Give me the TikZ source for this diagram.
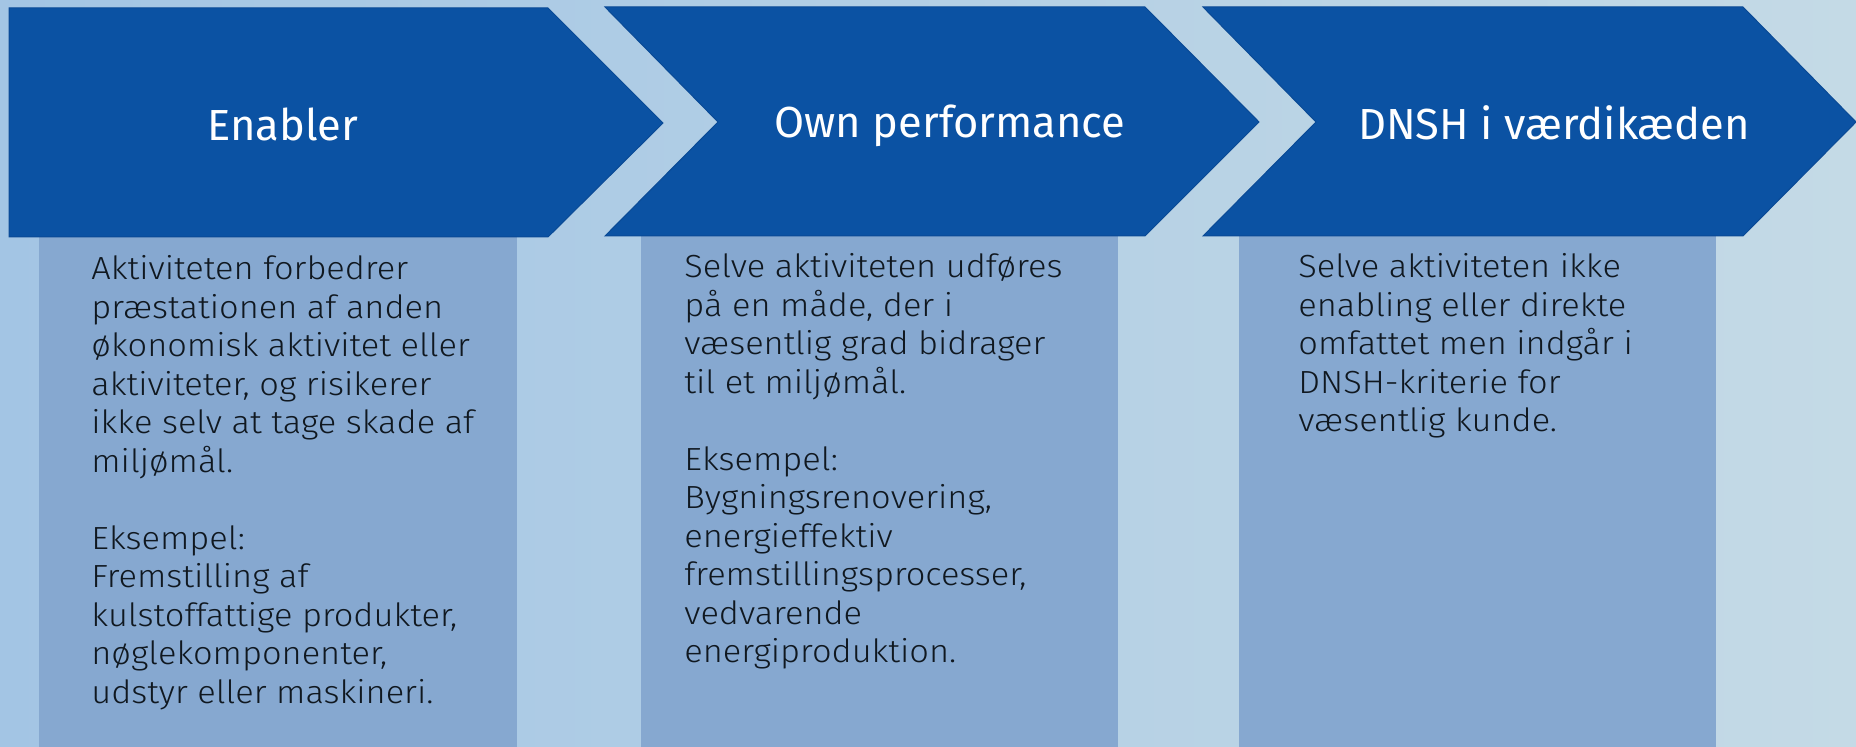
\documentclass[tikz,border=0pt]{standalone}
\usepackage{fontspec}
\setmainfont{Fira Sans}
\newfontfamily\bodyfont{Fira Sans}[UprightFont=* Light, FakeStretch=1.075]
\definecolor{bgL}{HTML}{A3C5E4}
\definecolor{bgM}{HTML}{B0CFDF}
\definecolor{bgR}{HTML}{C4DAE6}
\definecolor{chev}{HTML}{0B52A3}
\definecolor{chevedge}{HTML}{0A4A96}
\definecolor{colfill}{HTML}{86A8D0}
\definecolor{ink}{HTML}{101820}
\tikzset{
  chevron/.style={fill=chev, draw=chevedge, line width=0.5pt, line join=miter},
  column/.style={fill=colfill},
  heading/.style={anchor=base, inner sep=0pt, text=white, font=\fontsize{21.75}{26}\selectfont},
  bodytext/.style={anchor=base west, inner sep=0pt, text=ink, font=\bodyfont\fontsize{16}{19.25}\selectfont},
}
\newcommand{\colbox}[1]{\parbox[t]{300pt}{\raggedright\baselineskip=19.25pt #1}}
\begin{document}
\begin{tikzpicture}[x=0.5pt,y=-0.5pt]
\useasboundingbox (0,0) rectangle (1856,747);
\shade[left color=bgL, middle color=bgM, right color=bgR] (0,0) rectangle (1856,747);
% columns
\fill[column] (39,236) rectangle (517,747);
\fill[column] (641,236) rectangle (1118,747);
\fill[column] (1239,236) rectangle (1716,747);
% chevrons
\path[chevron] (9,8) -- (548,8) -- (663,123) -- (548,237) -- (9,237) -- cycle;
\path[chevron] (605,7) -- (1145,7) -- (1259,122) -- (1145,236) -- (605,236) -- (718,122) -- cycle;
\path[chevron] (1203,7) -- (1743,7) -- (1856,122) -- (1743,236) -- (1203,236) -- (1316,122) -- cycle;
% headings
\node[heading] (h1) at (283,141) {Enabler};
\node[heading] (h2) at (950,138) {Own performance};
\node[heading] (h3) at (1554,140) {DNSH i værdikæden};
% body texts
\node[bodytext] (t1) at (91,280) {\colbox{Aktiviteten forbedrer\\
præstationen af anden\\
økonomisk aktivitet eller\\
aktiviteter, og risikerer\\
ikke selv at tage skade af\\
miljømål.\\[19.25pt]
Eksempel:\\
Fremstilling af\\
kulstoffattige produkter,\\
nøglekomponenter,\\
udstyr eller maskineri.}};
\node[bodytext] (t2) at (684,278) {\colbox{Selve aktiviteten udføres\\
på en måde, der i\\
væsentlig grad bidrager\\
til et miljømål.\\[19.25pt]
Eksempel:\\
Bygningsrenovering,\\
energieffektiv\\
fremstillingsprocesser,\\
vedvarende\\
energiproduktion.}};
\node[bodytext] (t3) at (1298,278) {\colbox{Selve aktiviteten ikke\\
enabling eller direkte\\
omfattet men indgår i\\
DNSH-kriterie for\\
væsentlig kunde.}};
\end{tikzpicture}
\end{document}
